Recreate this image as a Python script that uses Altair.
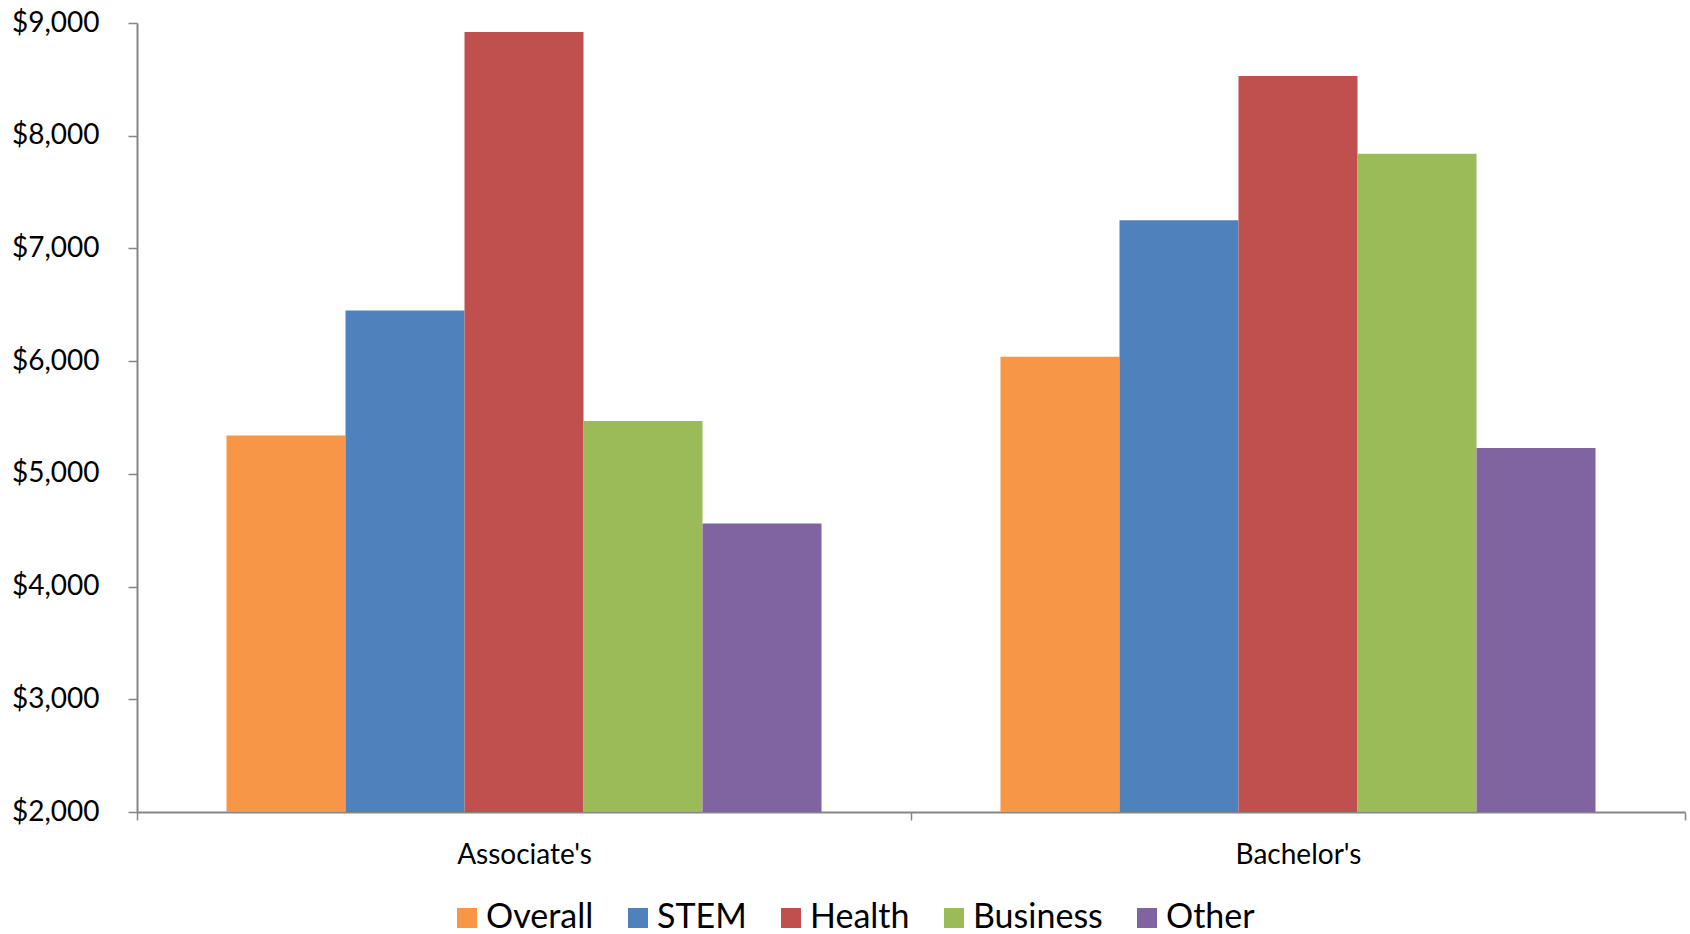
import altair as alt
import pandas as pd

# Average earnings by degree level and field of study
degrees = ["Associate's", "Bachelor's"]
fields = ["Overall", "STEM", "Health", "Business", "Other"]
associates = [5340, 6450, 8920, 5470, 4560]
bachelors = [6040, 7250, 8530, 7840, 5230]
field_colors = ["#F79646", "#4F81BD", "#C0504D", "#9BBB59", "#8064A2"]
y_ticks = [2000, 3000, 4000, 5000, 6000, 7000, 8000, 9000]

rows = []
for degree, values in zip(degrees, [associates, bachelors]):
    for field, value in zip(fields, values):
        rows.append({"degree": degree, "field": field, "earnings": value})
df = pd.DataFrame(rows)

FONT = "Lato"
AXIS_GRAY = "#868686"

chart = alt.Chart(df).mark_bar().encode(
    x=alt.X(
        "degree:N",
        sort=degrees,
        title=None,
        scale=alt.Scale(paddingInner=0, paddingOuter=0),
        axis=alt.Axis(
            labelAngle=0,
            tickBand="extent",
            domainColor=AXIS_GRAY,
            domainWidth=2,
            tickColor=AXIS_GRAY,
            tickWidth=1.5,
            tickSize=8,
            labelFont=FONT,
            labelFontSize=28,
            labelColor="#000000",
            labelBaseline="middle",
            labelPadding=35,
        ),
    ),
    xOffset=alt.XOffset(
        "field:N",
        sort=fields,
        scale=alt.Scale(paddingInner=0, paddingOuter=0.752),
    ),
    y=alt.Y(
        "earnings:Q",
        title=None,
        scale=alt.Scale(domain=[2000, 9000], zero=False, nice=False),
        axis=alt.Axis(
            values=y_ticks,
            format="$,.0f",
            grid=False,
            domainColor=AXIS_GRAY,
            domainWidth=2,
            tickColor=AXIS_GRAY,
            tickWidth=1.5,
            tickSize=9,
            labelFont=FONT,
            labelFontSize=28,
            labelColor="#000000",
            labelPadding=29,
        ),
    ),
    y2=alt.datum(2000),
    color=alt.Color(
        "field:N",
        sort=fields,
        scale=alt.Scale(domain=fields, range=field_colors),
        legend=alt.Legend(
            title=None,
            orient="none",
            legendX=313,
            legendY=878,
            direction="horizontal",
            columns=5,
            symbolType="square",
            symbolSize=400,
            symbolStrokeWidth=0,
            symbolOpacity=1,
            labelFont=FONT,
            labelFontSize=34,
            labelColor="#000000",
            labelOffset=2,
            columnPadding=27,
            padding=0,
        ),
    ),
).properties(
    width=1548,
    height=789,
    padding={"left": 137, "top": 23, "right": 5, "bottom": 122},
    autosize=alt.AutoSizeParams(type="none"),
).configure_view(stroke=None)

chart.save("out.html", embed_options={"renderer": "svg", "actions": False})
